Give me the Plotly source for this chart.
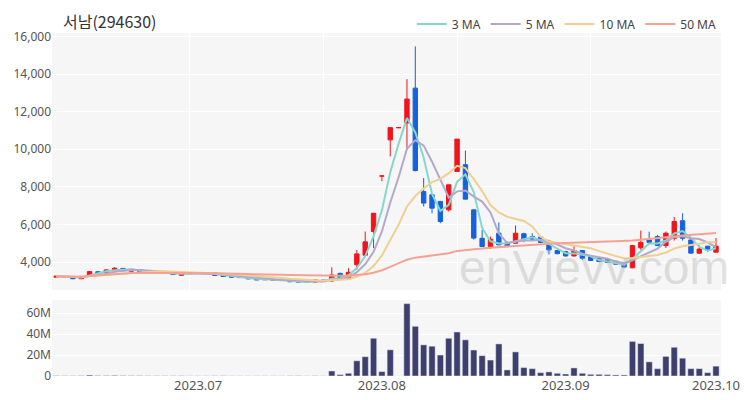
import pandas as pd
import plotly.graph_objects as go
from plotly.subplots import make_subplots

title_text = "서남(294630)"

dates = [
    "2023-06-07", "2023-06-08", "2023-06-09", "2023-06-12", "2023-06-13", "2023-06-14", "2023-06-15", "2023-06-16",
    "2023-06-19", "2023-06-20", "2023-06-21", "2023-06-22", "2023-06-23", "2023-06-26", "2023-06-27", "2023-06-28",
    "2023-06-29", "2023-06-30", "2023-07-03", "2023-07-04", "2023-07-05", "2023-07-06", "2023-07-07", "2023-07-10",
    "2023-07-11", "2023-07-12", "2023-07-13", "2023-07-14", "2023-07-17", "2023-07-18", "2023-07-19", "2023-07-20",
    "2023-07-21", "2023-07-24", "2023-07-25", "2023-07-26", "2023-07-27", "2023-07-28", "2023-07-31", "2023-08-01",
    "2023-08-02", "2023-08-03", "2023-08-04", "2023-08-07", "2023-08-08", "2023-08-09", "2023-08-10", "2023-08-11",
    "2023-08-14", "2023-08-16", "2023-08-17", "2023-08-18", "2023-08-21", "2023-08-22", "2023-08-23", "2023-08-24",
    "2023-08-25", "2023-08-28", "2023-08-29", "2023-08-30", "2023-08-31", "2023-09-01", "2023-09-04", "2023-09-05",
    "2023-09-06", "2023-09-07", "2023-09-08", "2023-09-11", "2023-09-12", "2023-09-13", "2023-09-14", "2023-09-15",
    "2023-09-18", "2023-09-19", "2023-09-20", "2023-09-21", "2023-09-22", "2023-09-25", "2023-09-26", "2023-09-27",
]

open_ = [3200, 3230, 3190, 3120, 3240, 3490, 3460, 3560, 3670, 3520,
         3610, 3500, 3480, 3460, 3450, 3300, 3390, 3420, 3410, 3430,
         3310, 3270, 3240, 3190, 3120, 3110, 3100, 3090, 3050, 3010,
         2980, 2940, 3050, 3000, 3400, 3150, 3860, 4370, 5630, 8580,
         10500, 11150, 11400, 13250, 7750, 7580, 7230, 6780, 8820, 9180,
         6780, 5270, 4830, 5540, 5040, 5010, 5510, 5360, 5330, 5100,
         4620, 4560, 4330, 4620, 4300, 4210, 4140, 4050, 3950, 3700,
         4760, 5190, 5360, 4880, 5270, 6200, 5180, 4480, 4850, 4530]
high = [3280, 3250, 3210, 3260, 3530, 3520, 3610, 3730, 3690, 3640,
        3620, 3530, 3510, 3480, 3460, 3430, 3430, 3430, 3430, 3440,
        3330, 3290, 3250, 3200, 3140, 3130, 3110, 3100, 3060, 3020,
        2990, 3070, 3060, 3730, 3450, 3680, 4650, 5630, 6600, 8580,
        11150, 11150, 13730, 15470, 8470, 7670, 7250, 8110, 10540, 9930,
        6800, 5720, 5360, 6110, 5100, 5950, 5560, 5540, 5380, 5120,
        4660, 4600, 4920, 4650, 4320, 4230, 4160, 4070, 3970, 4920,
        5680, 5620, 5450, 5630, 6400, 6600, 5200, 4880, 4870, 5280]
low = [3190, 3180, 3100, 3100, 3230, 3420, 3440, 3540, 3520, 3500,
       3470, 3460, 3420, 3380, 3320, 3290, 3370, 3400, 3390, 3280,
       3230, 3190, 3170, 3100, 3050, 3060, 3030, 3020, 2950, 2930,
       2920, 2930, 2960, 2960, 3100, 3120, 3600, 4300, 4750, 8300,
       9620, 11150, 9970, 8820, 6960, 6600, 6070, 6690, 8800, 7350,
       5200, 4830, 4700, 4900, 4850, 4980, 5060, 5160, 5010, 4400,
       4420, 4300, 4300, 4120, 4060, 4010, 3960, 3870, 3720, 3680,
       4660, 5000, 4870, 4750, 5150, 5150, 4480, 4440, 4540, 4530]
close = [3250, 3200, 3120, 3250, 3500, 3450, 3590, 3680, 3560, 3620,
         3490, 3480, 3440, 3400, 3340, 3410, 3420, 3410, 3410, 3290,
         3240, 3200, 3180, 3110, 3060, 3070, 3040, 3030, 2960, 2940,
         2940, 3060, 2970, 3320, 3150, 3460, 4440, 5080, 6600, 8580,
         11150, 11150, 12670, 8870, 7140, 6870, 6160, 8110, 10540, 7350,
         5280, 4830, 5220, 4920, 4870, 5540, 5220, 5220, 5050, 4650,
         4450, 4330, 4620, 4210, 4090, 4030, 3980, 3890, 3740, 4880,
         5050, 5050, 4880, 5540, 6160, 5270, 4480, 4700, 4650, 4850]
volume_m = [0.3, 0.2, 0.2, 0.3, 0.9, 0.4, 0.4, 0.6, 0.4, 0.3,
            0.3, 0.2, 0.2, 0.2, 0.2, 0.2, 0.1, 0.1, 0.1, 0.2,
            0.2, 0.1, 0.1, 0.1, 0.1, 0.1, 0.1, 0.1, 0.2, 0.2,
            0.1, 0.2, 0.1, 4.8, 1.3, 2.6, 14.5, 18.4, 36.0, 4.2,
            25.0, 0.0, 69.0, 47.4, 29.7, 28.4, 20.0, 36.0, 42.0, 34.5,
            24.8, 19.4, 15.2, 30.6, 5.8, 23.0, 8.0, 7.0, 3.2, 3.9,
            2.6, 1.9, 7.7, 2.6, 1.6, 1.6, 1.3, 1.0, 1.0, 33.0,
            31.0, 13.5, 7.0, 18.7, 27.4, 17.0, 7.0, 7.0, 3.2, 9.4]

ma_windows = [3, 5, 10, 50]
ma_names = ["3 MA", "5 MA", "10 MA", "50 MA"]
ma_colors = ["#86d6cb", "#b3a8cc", "#f1cf92", "#f6a293"]

tick_dates = ["2023-06-30", "2023-08-01", "2023-09-01", "2023-09-27"]
tick_labels = ["2023.07", "2023.08", "2023.09", "2023.10"]
grid_dates = ["2023-06-29", "2023-07-21", "2023-08-14", "2023-09-06"]

price_ticks = [4000, 6000, 8000, 10000, 12000, 14000, 16000]
vol_ticks = [0, 20e6, 40e6, 60e6]
vol_tick_labels = ["0", "20M", "40M", "60M"]

df = pd.DataFrame({"date": dates, "open": open_, "high": high, "low": low,
                   "close": close, "volume": [v * 1e6 for v in volume_m]})

fig = make_subplots(rows=2, cols=1, shared_xaxes=False)

fig.add_trace(go.Candlestick(
    x=df["date"], open=df["open"], high=df["high"], low=df["low"], close=df["close"],
    increasing=dict(line=dict(color="#f0141c", width=1), fillcolor="#f0141c"),
    decreasing=dict(line=dict(color="#1662dc", width=1), fillcolor="#1662dc"),
    showlegend=False, name="price"), row=1, col=1)

for w, n, c in zip(ma_windows, ma_names, ma_colors):
    ma = df["close"].rolling(w, min_periods=1).mean()
    fig.add_trace(go.Scatter(x=df["date"], y=ma, mode="lines", name=n,
                             line=dict(color=c, width=2)), row=1, col=1)

fig.add_trace(go.Bar(x=df["date"], y=df["volume"], marker_color="#3e3f6c",
                     showlegend=False, name="volume"), row=2, col=1)

# The page body has an 8px default margin, so the figure is 742x392.
tick_font = dict(family="Noto Sans, sans-serif", size=12, color="#555")
fig.update_layout(
    width=742, height=392,
    margin=dict(l=44, r=29, t=25, b=24, autoexpand=False),
    paper_bgcolor="white", plot_bgcolor="#f6f6f6",
    font=dict(family="Noto Sans CJK KR, Noto Sans, sans-serif", size=12, color="#555"),
    title=dict(text=title_text, x=0.0741, xanchor="left", xref="container",
               y=0.964, yanchor="middle", pad=dict(l=0, r=0, t=0, b=0),
               font=dict(size=16, color="#333")),
    legend=dict(orientation="h", x=0.962, xanchor="right", xref="container",
                y=0.959, yanchor="middle", yref="container",
                font=dict(family="Noto Sans, sans-serif", size=12, color="#444"),
                bgcolor="rgba(0,0,0,0)"),
    bargap=0.25,
    boxgap=0.25,
    annotations=[dict(text="enVievv.com", xref="paper", yref="paper", x=0.81, y=0.315,
                      xanchor="center", yanchor="middle", showarrow=False,
                      font=dict(size=48, color="rgba(170,170,170,0.35)",
                                family="Liberation Sans, Arial, sans-serif"))],
)

fig.update_xaxes(type="category", rangeslider_visible=False, range=[-0.5, 79.6],
                 showline=False, zeroline=False, ticks="", automargin=False)
fig.update_xaxes(row=1, col=1, tickvals=grid_dates, showticklabels=False,
                 showgrid=True, gridcolor="white", gridwidth=1)
fig.update_xaxes(row=2, col=1, tickvals=tick_dates, ticktext=tick_labels,
                 showgrid=False, tickfont=dict(family="Noto Sans, sans-serif", size=13, color="#555"))
fig.update_yaxes(row=1, col=1, domain=[0.2507, 1.0], range=[2520, 16180], tickvals=price_ticks,
                 tickformat=",", gridcolor="white", gridwidth=1, zeroline=False,
                 tickfont=tick_font, automargin=False)
fig.update_yaxes(row=2, col=1, domain=[0.0, 0.2216], range=[0, 72.5e6], tickvals=vol_ticks,
                 ticktext=vol_tick_labels, gridcolor="white", gridwidth=1, zeroline=False,
                 tickfont=tick_font, automargin=False)

fig.write_html("out.html")
